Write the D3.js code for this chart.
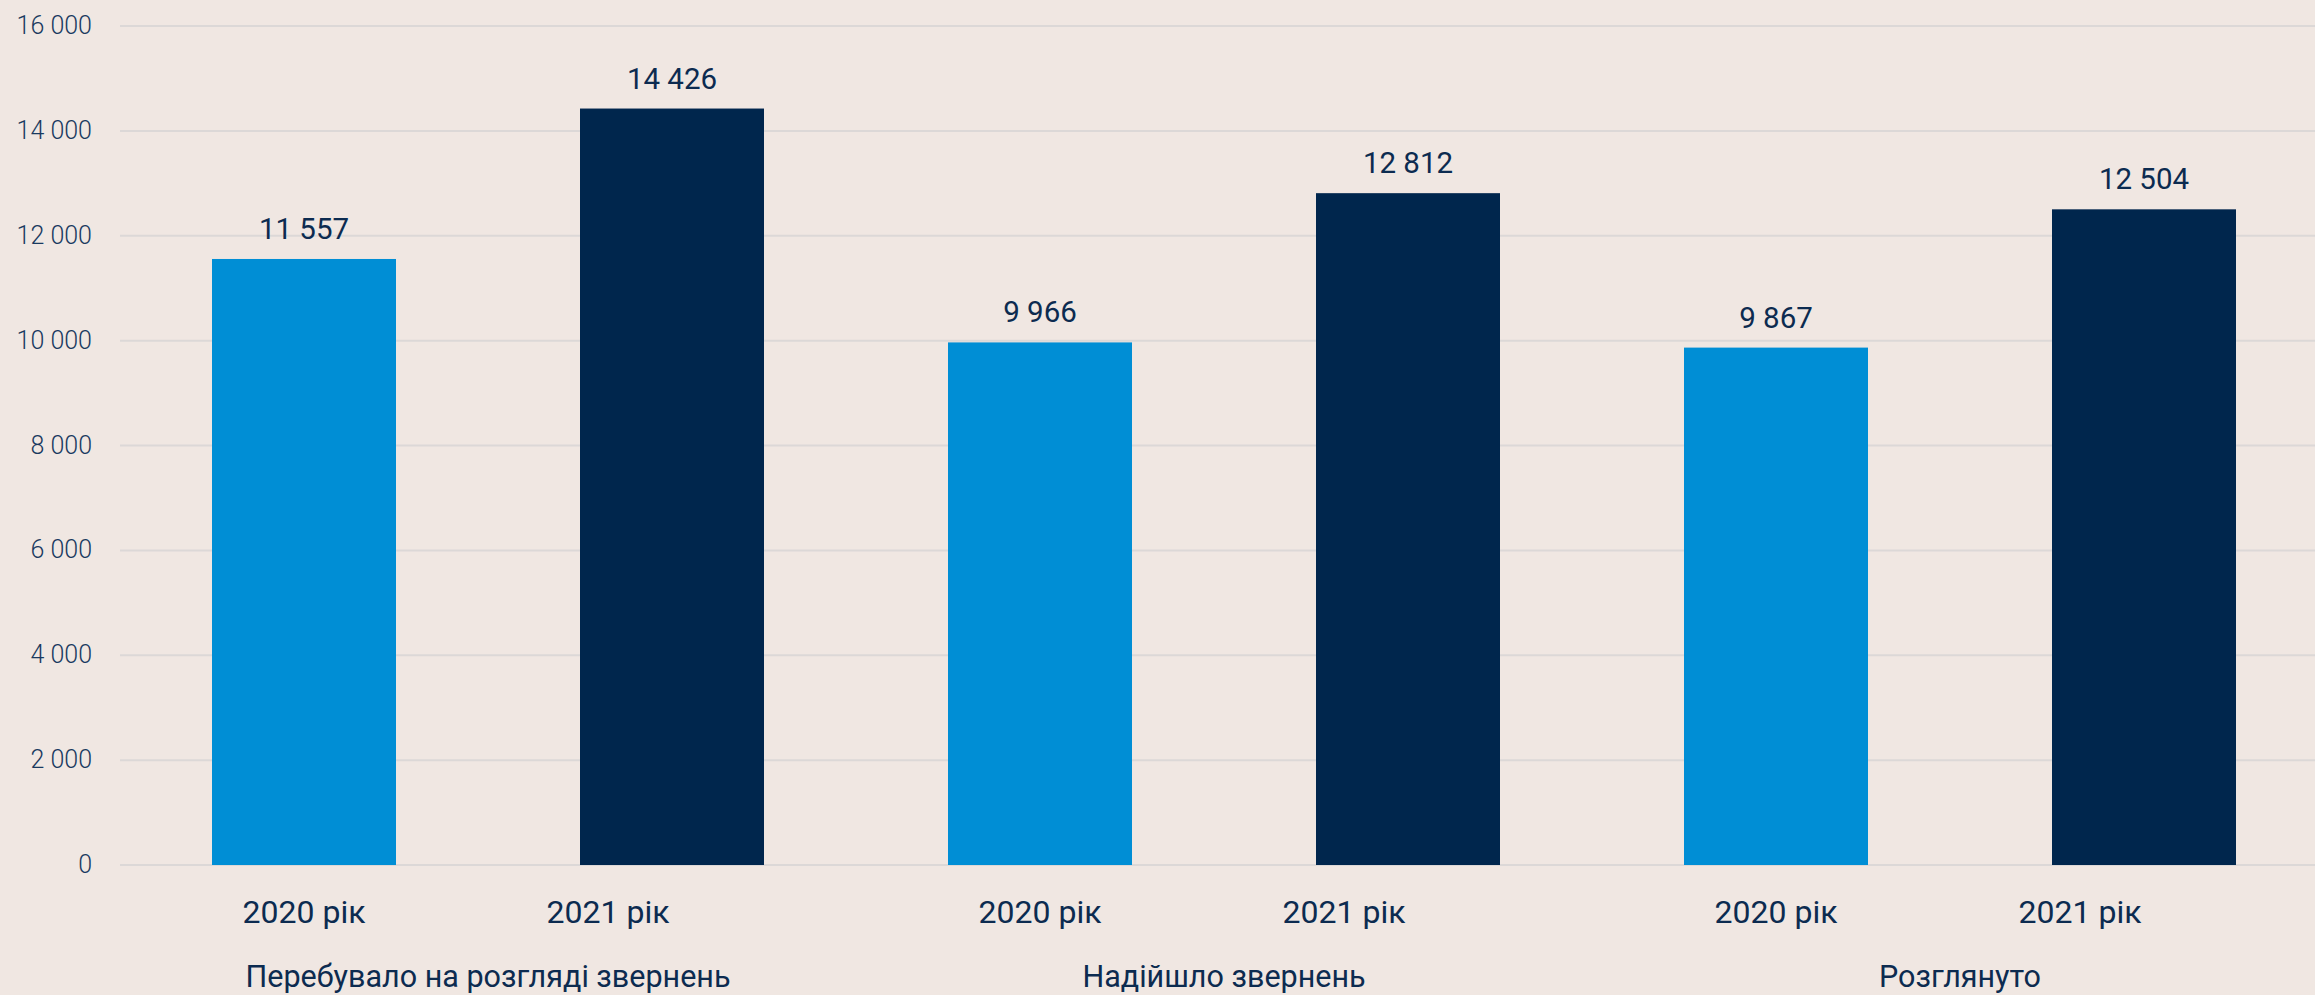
<!DOCTYPE html>
<html>
<head>
<meta charset="utf-8">
<title>Звернення 2020-2021</title>
<script src="https://cdnjs.cloudflare.com/ajax/libs/d3/7.8.5/d3.min.js"></script>
<style>
  html, body { margin: 0; padding: 0; background: #f0e7e2; }
  svg { display: block; }
  text { font-family: Roboto, "Noto Sans", sans-serif; fill: #0c2b50; }
  .grid line { stroke: #dcd8d7; stroke-width: 2; }
  .tick-label { font-size: 25px; font-weight: 300; fill: #1a3a60; }
  .value { font-size: 29.5px; text-anchor: middle; }
  .year { font-size: 32px; text-anchor: middle; }
  .group { font-size: 30.5px; text-anchor: middle; }
</style>
</head>
<body>
<svg width="2315" height="995"></svg>
<script>
// data
var groups = ["Перебувало на розгляді звернень", "Надійшло звернень", "Розглянуто"];
var years = ["2020 рік", "2021 рік"];
var values2020 = [11557, 9966, 9867];
var values2021 = [14426, 12812, 12504];
var yTicks = [0, 2000, 4000, 6000, 8000, 10000, 12000, 14000, 16000];
var colors = ["#008ed5", "#00264d"];

var svg = d3.select("svg"),
    width = +svg.attr("width"),
    height = +svg.attr("height");

var plotLeft = 120, plotRight = 2328, plotTop = 26, plotBottom = 865;

var y = d3.scaleLinear().domain([0, 16000]).range([plotBottom, plotTop]);

var x0 = d3.scaleBand().domain(groups).range([plotLeft, plotRight]).padding(0);
var x1 = d3.scaleBand().domain(years).range([0, x0.bandwidth()])
    .paddingInner(0.5).paddingOuter(0.25);
// year labels under the bars sit a bit closer together than the bars
var xLabel = d3.scalePoint().domain(years).range([184, 488]);

var color = d3.scaleOrdinal().domain(years).range(colors);

var fmt = function(v) { return d3.format(",")(v).replace(/,/g, " "); };

// grid
svg.append("g").attr("class", "grid")
  .selectAll("line").data(yTicks).enter().append("line")
    .attr("x1", plotLeft).attr("x2", width)
    .attr("y1", function(d) { return y(d); })
    .attr("y2", function(d) { return y(d); });

svg.append("g").selectAll("text").data(yTicks).enter().append("text")
    .attr("class", "tick-label")
    .attr("x", 92)
    .attr("y", function(d) { return y(d); })
    .attr("dy", "0.32em")
    .attr("text-anchor", "end")
    .text(function(d) { return fmt(d); });

var rows = [];
groups.forEach(function(g, i) {
  rows.push({group: g, year: years[0], value: values2020[i]});
  rows.push({group: g, year: years[1], value: values2021[i]});
});

var bar = svg.append("g").selectAll("g").data(rows).enter().append("g");

bar.append("rect")
    .attr("x", function(d) { return x0(d.group) + x1(d.year); })
    .attr("y", function(d) { return y(d.value); })
    .attr("width", x1.bandwidth())
    .attr("height", function(d) { return y(0) - y(d.value); })
    .attr("fill", function(d) { return color(d.year); });

bar.append("text")
    .attr("class", "value")
    .attr("x", function(d) { return x0(d.group) + x1(d.year) + x1.bandwidth() / 2; })
    .attr("y", function(d) { return y(d.value) - 20; })
    .text(function(d) { return fmt(d.value); });

bar.append("text")
    .attr("class", "year")
    .attr("x", function(d) { return x0(d.group) + xLabel(d.year); })
    .attr("y", 923)
    .text(function(d) { return d.year; });

svg.append("g").selectAll("text").data(groups).enter().append("text")
    .attr("class", "group")
    .attr("x", function(d) { return x0(d) + x1(years[0]) + (x1(years[1]) - x1(years[0]) + x1.bandwidth()) / 2; })
    .attr("y", 987)
    .text(function(d) { return d; });
</script>
</body>
</html>
